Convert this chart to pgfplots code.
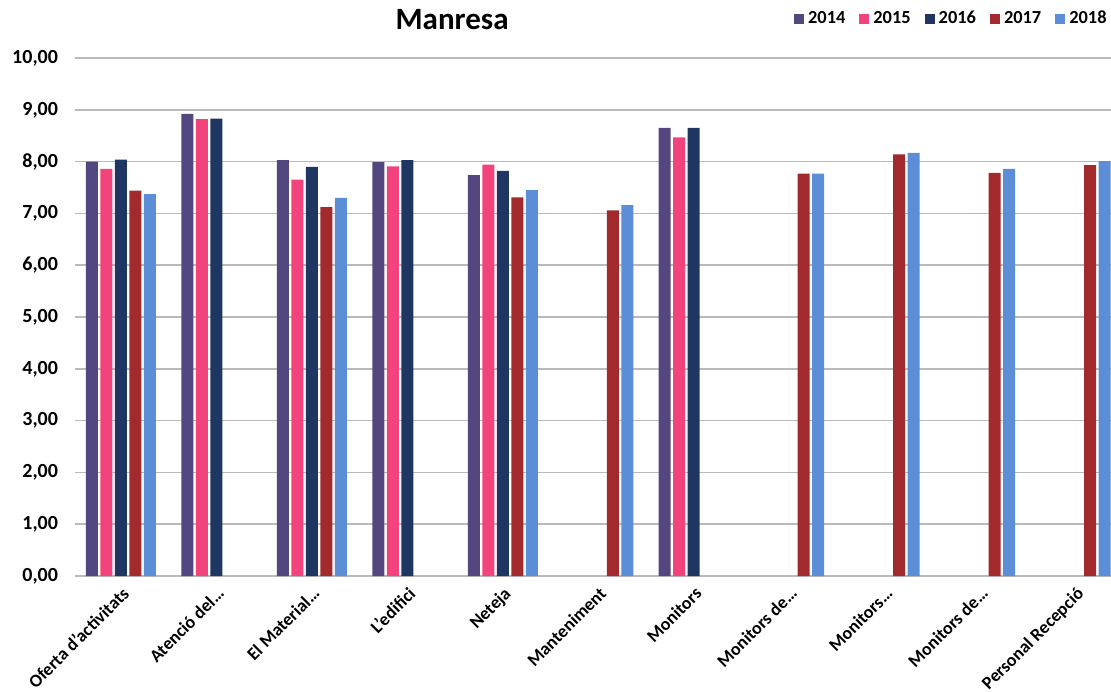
\documentclass[border=0pt]{standalone}
\usepackage{pgfplots}
\pgfplotsset{compat=1.18}
\usepackage{fontspec}
\setmainfont{Carlito}
\definecolor{c14}{HTML}{54467F}
\definecolor{c15}{HTML}{F2437C}
\definecolor{c16}{HTML}{1F3662}
\definecolor{c17}{HTML}{A2292C}
\definecolor{c18}{HTML}{5B8ED6}
\begin{document}
\begin{tikzpicture}
\begin{axis}[
  scale only axis, width=518pt, height=259pt,
  xmin=-0.48, xmax=10.37, ymin=0, ymax=10,
  ybar=1.25pt, bar width=6pt,
  axis line style={draw=none},
  ymajorgrids, grid style={draw=black!27, line width=0.8pt},
  ytick={0,1,2,3,4,5,6,7,8,9,10},
  major tick length=0pt,
  yticklabel={\pgfmathprintnumber[fixed,fixed zerofill,precision=2,use comma,assume math mode=true]{\tick}},
  yticklabel style={font=\bfseries\fontsize{10}{12}\selectfont, xshift=-5pt},
  xtick={0,1,2,3,4,5,6,7,8,9,10},
  xticklabels={Oferta d'activitats,Atenció del…,El Material…,L'edifici,Neteja,Manteniment,Monitors,Monitors de…,Monitors…,Monitors de…,Personal Recepció},
  xticklabel style={font=\bfseries\fontsize{9}{11}\selectfont, rotate=45, anchor=north east},
  title={Manresa},
  title style={font=\bfseries\fontsize{15.5}{18}\selectfont, at={(0.364,1)}, anchor=base, yshift=8pt},
  legend columns=5,
  legend style={draw=none, fill=none, at={(1,1)}, anchor=east, yshift=19.5pt, xshift=3pt,
    font=\bfseries\fontsize{9.2}{11}\selectfont,
    /tikz/every even column/.append style={column sep=5pt}},
  legend image code/.code={\fill[#1] (0pt,-2.5pt) rectangle (5pt,2.5pt);},
]
\addplot[fill=c14, draw=none] coordinates {(0,8.00)(1,8.92)(2,8.03)(3,7.99)(4,7.74)(6,8.65)};
\addplot[fill=c15, draw=none] coordinates {(0,7.86)(1,8.82)(2,7.65)(3,7.91)(4,7.94)(6,8.47)};
\addplot[fill=c16, draw=none] coordinates {(0,8.04)(1,8.83)(2,7.90)(3,8.03)(4,7.82)(6,8.65)};
\addplot[fill=c17, draw=none] coordinates {(0,7.44)(2,7.12)(4,7.31)(5,7.06)(7,7.77)(8,8.14)(9,7.78)(10,7.93)};
\addplot[fill=c18, draw=none] coordinates {(0,7.37)(2,7.30)(4,7.45)(5,7.16)(7,7.77)(8,8.17)(9,7.86)(10,8.01)};
\legend{2014,2015,2016,2017,2018}
\end{axis}
\pgfresetboundingbox
\path[use as bounding box] ([shift={(-37.5pt,-57.5pt)}]current axis.south west) rectangle ++(555.5pt,345.5pt);
\end{tikzpicture}
\end{document}
